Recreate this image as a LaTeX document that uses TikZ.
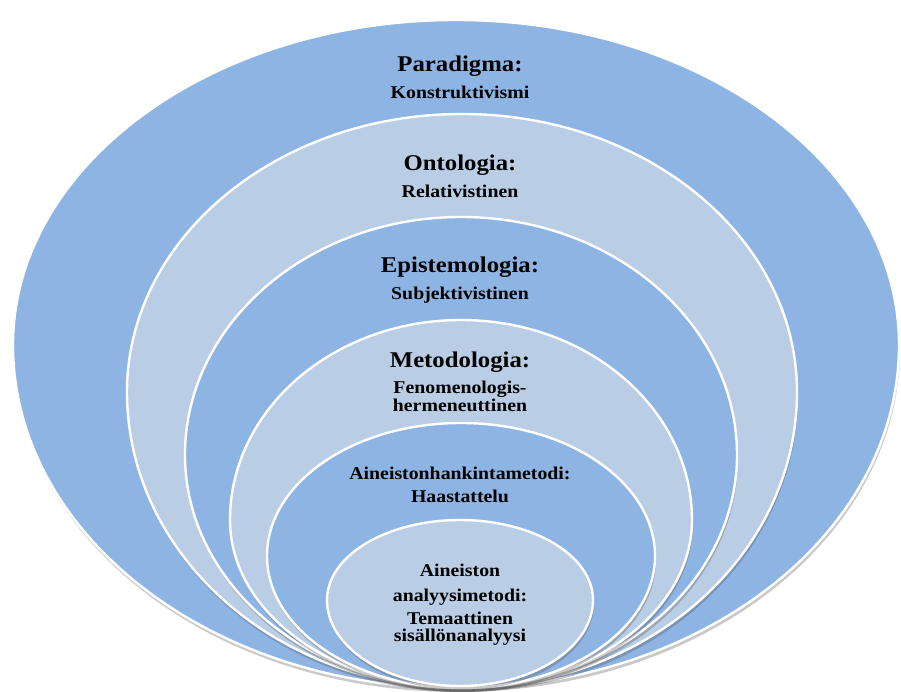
\documentclass[tikz,border=0pt]{standalone}
\usepackage{fontspec}
\setmainfont{Liberation Serif}[FakeStretch=1.1]
\usetikzlibrary{shadows}
\pgfdeclarelayer{edgelayer}
\pgfdeclarelayer{nodelayer}
\pgfsetlayers{edgelayer,nodelayer,main}
\definecolor{ringblue}{RGB}{142,180,227}
\definecolor{ringlight}{RGB}{185,205,229}
\tikzstyle{none}=[inner sep=0pt]
\tikzstyle{head}=[inner sep=0pt, anchor=base, font=\bfseries\fontsize{22.5}{27}\selectfont]
\tikzstyle{sub}=[inner sep=0pt, anchor=base, font=\bfseries\fontsize{18}{22}\selectfont]
\tikzstyle{ring}=[draw=white, line width=2.4pt, drop shadow={shadow xshift=1pt, shadow yshift=-4pt, opacity=0.3, fill=black!70}]
\tikzstyle{blue ring}=[ring, fill=ringblue]
\tikzstyle{light ring}=[ring, fill=ringlight]
% egg shaped oval: centre x, centre y, x radius, upper y radius, lower y radius
\newcommand{\ringpath}[5]{(#1+#3,#2) arc[start angle=0, end angle=180, x radius=#3, y radius=#4] arc[start angle=180, end angle=360, x radius=#3, y radius=#5] -- cycle}

\begin{document}
\begin{tikzpicture}[x=1pt, y=1pt]
	\useasboundingbox (0, 0) rectangle (901, 692);
	\begin{pgfonlayer}{edgelayer}
		\path [style=blue ring] \ringpath{456}{347}{443}{325}{343};
		\path [style=light ring] \ringpath{462}{300}{335}{278}{296};
		\path [style=blue ring] \ringpath{461}{237}{276}{238}{233};
		\path [style=light ring] \ringpath{461}{172}{231}{200}{168};
		\path [style=blue ring] \ringpath{461}{136}{194}{133}{132};
		\path [style=light ring] \ringpath{460}{92}{133}{80}{86};
	\end{pgfonlayer}
	\begin{pgfonlayer}{nodelayer}
		\node [style=head] (0) at (460, 620) {Paradigma:};
		\node [style=sub] (1) at (460, 593) {Konstruktivismi};
		\node [style=head] (2) at (460, 521) {Ontologia:};
		\node [style=sub] (3) at (460, 494) {Relativistinen};
		\node [style=head] (4) at (460, 419) {Epistemologia:};
		\node [style=sub] (5) at (460, 392) {Subjektivistinen};
		\node [style=head] (6) at (460, 324) {Metodologia:};
		\node [style=sub] (7) at (460, 298) {Fenomenologis-};
		\node [style=sub] (8) at (460, 280) {hermeneuttinen};
		\node [style=sub] (9) at (460, 212) {Aineistonhankintametodi:};
		\node [style=sub] (10) at (460, 189) {Haastattelu};
		\node [style=sub] (11) at (460, 115) {Aineiston};
		\node [style=sub] (12) at (460, 90) {analyysimetodi:};
		\node [style=sub] (13) at (460, 67) {Temaattinen};
		\node [style=sub] (14) at (460, 50) {sisällönanalyysi};
	\end{pgfonlayer}
\end{tikzpicture}
\end{document}
